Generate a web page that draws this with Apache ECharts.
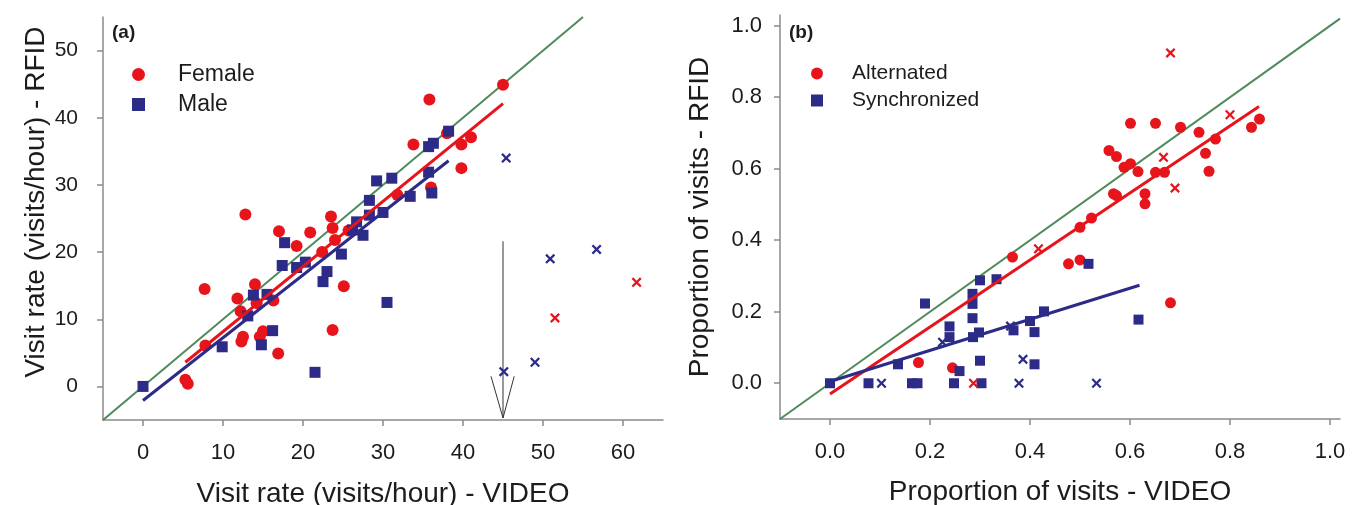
<!DOCTYPE html>
<html>
<head>
<meta charset="utf-8">
<script src="https://cdn.jsdelivr.net/npm/echarts@6/dist/echarts.min.js"></script>
<style>html,body{margin:0;padding:0;background:#fff}#c{width:1360px;height:505px}</style>
</head>
<body>
<div id="c"></div>
<script>
// ---------- Panel (a) data: visit rate (visits/hour) ----------
const femalePts = [[5.3,1.0],[5.6,0.4],[7.7,14.5],[7.8,6.1],[11.8,13.1],[12.2,11.2],[12.3,6.7],[12.5,7.4],
  [12.8,25.6],[14.0,15.2],[14.2,12.4],[14.6,7.4],[15.0,8.2],[16.3,12.8],[16.9,4.9],[17.0,23.1],[19.2,20.9],
  [20.9,22.9],[22.4,20.0],[23.5,25.3],[23.7,23.6],[24.0,21.8],[23.7,8.4],[25.1,14.9],[25.7,23.2],[31.8,28.5],
  [35.8,42.7],[33.8,36.0],[38.0,37.7],[39.8,36.0],[41.0,37.1],[39.8,32.5],[36.0,29.6],[45.0,44.9]];
const malePts = [[0,0],[9.9,5.9],[14.8,6.2],[16.2,8.3],[13.1,10.5],[13.8,13.6],[15.5,13.7],[21.5,2.1],[30.5,12.5],
  [17.4,18.0],[17.7,21.4],[19.2,17.7],[20.3,18.5],[22.5,15.6],[23.0,17.1],[24.8,19.7],[26.7,24.5],[27.5,22.5],
  [26.2,23.3],[28.3,27.7],[28.3,25.5],[30.0,25.9],[29.2,30.6],[31.1,31.0],[33.4,28.3],[38.2,38.0],[35.7,35.7],
  [36.3,36.2],[35.7,31.9],[36.1,28.8]];
const femaleExcluded = [[61.7,15.5],[51.5,10.2]];
const maleExcluded = [[45.4,34.0],[50.9,19.0],[56.7,20.4],[49.0,3.6],[45.1,2.2]];
const femaleFit = [[5.3,3.6],[45.0,42.1]];
const maleFit = [[0,-2.1],[38.2,33.6]];
const identityA = [[-5,-5],[55,55]];
const arrowShaft = [[45,21.6],[45,-4.7]];
const arrowHead = [[43.5,1.5],[45,-4.7],[46.4,1.5]];
const ticksAx = [0,10,20,30,40,50,60];
const ticksAy = [0,10,20,30,40,50];

// ---------- Panel (b) data: proportion of visits ----------
const alternatedPts = [[0.177,0.058],[0.245,0.043],[0.365,0.353],[0.477,0.334],[0.500,0.345],[0.500,0.436],
  [0.523,0.462],[0.567,0.530],[0.573,0.525],[0.630,0.530],[0.630,0.502],[0.558,0.651],[0.573,0.634],[0.588,0.604],
  [0.601,0.614],[0.616,0.592],[0.601,0.727],[0.651,0.727],[0.651,0.590],[0.669,0.590],[0.701,0.716],[0.738,0.702],
  [0.771,0.683],[0.751,0.643],[0.758,0.593],[0.843,0.716],[0.859,0.739],[0.681,0.225]];
const synchronizedPts = [[0,0],[0.077,0],[0.164,0],[0.175,0],[0.248,0],[0.303,0],[0.136,0.053],[0.190,0.223],
  [0.259,0.034],[0.239,0.159],[0.239,0.129],[0.285,0.182],[0.285,0.250],[0.285,0.222],[0.286,0.129],[0.298,0.142],
  [0.300,0.288],[0.300,0.063],[0.333,0.291],[0.367,0.148],[0.400,0.174],[0.409,0.143],[0.428,0.201],[0.409,0.053],
  [0.517,0.334],[0.617,0.178]];
const alternatedExcluded = [[0.681,0.924],[0.800,0.751],[0.667,0.632],[0.690,0.546],[0.417,0.376],[0.287,0]];
const synchronizedExcluded = [[0.103,0],[0.378,0],[0.386,0.067],[0.225,0.115],[0.361,0.160],[0.533,0]];
const alternatedFit = [[0,-0.03],[0.858,0.774]];
const synchronizedFit = [[0,0.005],[0.619,0.274]];
const identityB = [[-0.1,-0.1],[1.02,1.02]];
const ticksB = [0,0.2,0.4,0.6,0.8,1.0];

const RED = '#e8141c', BLUE = '#2c2b88', GREEN = '#4f8a5b', AXIS = '#8a8a8a', TXT = '#1c1c1c', ARROW = '#333333';
const FONT = '"Liberation Sans", Arial, sans-serif';
const CROSS = 'path://M0,1.6L1.6,0L5,3.4L8.4,0L10,1.6L6.6,5L10,8.4L8.4,10L5,6.6L1.6,10L0,8.4L3.4,5Z';

function valAxis(o) {
  return {
    type: 'value', gridIndex: o.grid, min: o.min, max: o.max,
    axisLine: { show: true, onZero: false, lineStyle: { color: AXIS, width: 1.5 } },
    axisTick: { show: true, length: 6, customValues: o.ticks, lineStyle: { color: AXIS, width: 1.5 } },
    axisLabel: { customValues: o.ticks, fontSize: o.fs, margin: o.margin, color: TXT, fontFamily: FONT,
                 formatter: o.fmt },
    splitLine: { show: false },
    name: o.name || '', nameLocation: 'middle', nameGap: o.gap || 0,
    nameTextStyle: { fontSize: o.nfs || 28, color: TXT, fontFamily: FONT }
  };
}
function scatter(name, data, sym, size, color, xi) {
  return { type: 'scatter', name, data, xAxisIndex: xi, yAxisIndex: xi, symbol: sym, symbolSize: size,
           itemStyle: { color, opacity: 1 }, z: 3, animation: false };
}
function line(name, data, color, width, xi, z) {
  return { type: 'line', name, data, xAxisIndex: xi, yAxisIndex: xi, symbol: 'none', silent: true,
           lineStyle: { color, width }, itemStyle: { color }, z: z, animation: false };
}

const chart = echarts.init(document.getElementById('c'), null, { renderer: 'canvas' });
chart.setOption({
  backgroundColor: '#fff',
  animation: false,
  textStyle: { fontFamily: FONT },
  grid: [
    { left: 103, top: 17, width: 560, height: 403, containLabel: false, outerBoundsMode: 'none' },
    { left: 780, top: 15, width: 560, height: 404, containLabel: false, outerBoundsMode: 'none' }
  ],
  xAxis: [
    valAxis({ grid: 0, min: -5, max: 65, ticks: ticksAx, fs: 22, margin: 22, name: 'Visit rate (visits/hour) - VIDEO', gap: 60, nfs: 28 }),
    valAxis({ grid: 1, min: -0.1, max: 1.02, ticks: ticksB, fs: 22, margin: 22, fmt: v => v.toFixed(1), name: 'Proportion of visits - VIDEO', gap: 59, nfs: 28 })
  ],
  yAxis: [
    valAxis({ grid: 0, min: -5, max: 55, ticks: ticksAy, fs: 21, margin: 25 }),
    valAxis({ grid: 1, min: -0.1, max: 1.03, ticks: ticksB, fs: 22, margin: 18, fmt: v => v.toFixed(1) })
  ],
  title: [
    { text: '(a)', left: 112, top: 23, padding: 0, textStyle: { fontSize: 19, fontWeight: 'bold', color: TXT, fontFamily: FONT } },
    { text: '(b)', left: 789, top: 23, padding: 0, textStyle: { fontSize: 19, fontWeight: 'bold', color: TXT, fontFamily: FONT } }
  ],
  legend: [
    { data: ['Female', 'Male'], orient: 'vertical', left: 132, top: 63, padding: 0, itemWidth: 13, itemHeight: 13,
      itemGap: 7, selectedMode: false,
      textStyle: { fontSize: 23, lineHeight: 23, color: TXT, fontFamily: FONT, padding: [0, 0, 0, 28] } },
    { data: ['Alternated', 'Synchronized'], orient: 'vertical', left: 811, top: 63, padding: 0, itemWidth: 12, itemHeight: 12,
      itemGap: 6, selectedMode: false,
      textStyle: { fontSize: 21, lineHeight: 21, color: TXT, fontFamily: FONT, padding: [0, 0, 0, 24] } }
  ],
  graphic: [
    { type: 'text', x: 36, y: 202, rotation: Math.PI / 2,
      style: { text: 'Visit rate (visits/hour) - RFID', fontSize: 28, fontFamily: FONT, fill: TXT,
               align: 'center', verticalAlign: 'middle', textAlign: 'center', textVerticalAlign: 'middle' } },
    { type: 'text', x: 700, y: 217, rotation: Math.PI / 2,
      style: { text: 'Proportion of visits - RFID', fontSize: 28, fontFamily: FONT, fill: TXT,
               align: 'center', verticalAlign: 'middle', textAlign: 'center', textVerticalAlign: 'middle' } }
  ],
  series: [
    line('identityA', identityA, GREEN, 2, 0, 1),
    line('arrowShaft', arrowShaft, ARROW, 1, 0, 1),
    line('arrowHead', arrowHead, ARROW, 1, 0, 1),
    scatter('Female', femalePts, 'circle', 12, RED, 0),
    scatter('Male', malePts, 'rect', 11, BLUE, 0),
    scatter('Female excluded', femaleExcluded, CROSS, 10, RED, 0),
    scatter('Male excluded', maleExcluded, CROSS, 10, BLUE, 0),
    line('femaleFit', femaleFit, RED, 3, 0, 4),
    line('maleFit', maleFit, BLUE, 3, 0, 4),

    line('identityB', identityB, GREEN, 2, 1, 1),
    scatter('Alternated', alternatedPts, 'circle', 11, RED, 1),
    scatter('Synchronized', synchronizedPts, 'rect', 10, BLUE, 1),
    scatter('Alternated excluded', alternatedExcluded, CROSS, 10, RED, 1),
    scatter('Synchronized excluded', synchronizedExcluded, CROSS, 10, BLUE, 1),
    line('alternatedFit', alternatedFit, RED, 3, 1, 4),
    line('synchronizedFit', synchronizedFit, BLUE, 3, 1, 4)
  ]
});
</script>
</body>
</html>
